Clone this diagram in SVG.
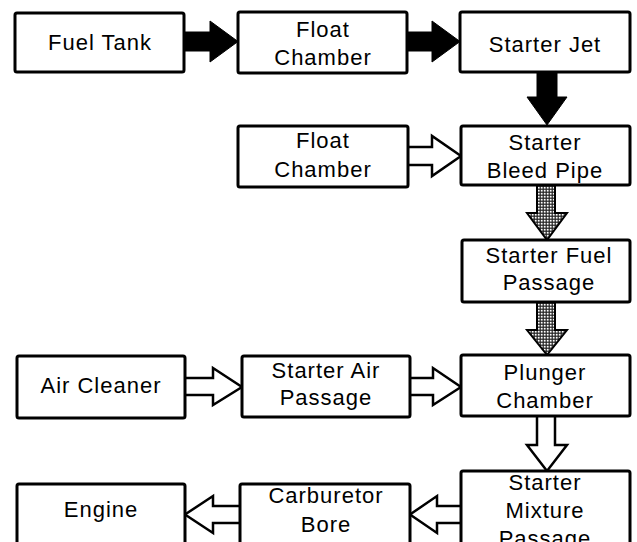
<svg xmlns="http://www.w3.org/2000/svg" width="637" height="542" viewBox="0 0 637 542">
<style>
.box{fill:#fff;stroke:#000;stroke-width:3;}
.t{font-family:"Liberation Sans",Arial,sans-serif;font-size:22px;letter-spacing:1px;text-anchor:middle;fill:#000;}
.solid{fill:#000;stroke:#000;stroke-width:1;stroke-linejoin:miter;}
.hollow{fill:#fff;stroke:#000;stroke-width:2.5;stroke-linejoin:miter;}
.dot{fill:url(#mesh);stroke:#000;stroke-width:2;stroke-linejoin:miter;}
</style>
<defs>
<pattern id="mesh" width="3" height="3" patternUnits="userSpaceOnUse">
<rect width="3" height="3" fill="#222"/>
<rect x="0.8" y="0.8" width="1.8" height="1.8" fill="#fff"/>
</pattern>
</defs>
<rect width="637" height="542" fill="#fff"/>
<g id="connectors">
<path class="solid" d="M184,32 H210 V21 L238,41.5 L210,62 V51 H184 Z"/>
<path class="solid" d="M407,32 H432 V21 L460,41.5 L432,62 V51 H407 Z"/>
<path class="solid" d="M537,72 V97 H527 L547,125 L567,97 H557 V72 Z"/>
<path class="hollow" d="M408,147 H432 V136 L461,156 L432,176 V165 H408"/>
<path class="dot" d="M537,185 V213 H527 L547,240 L567,213 H555 V185"/>
<path class="dot" d="M537,302 V330 H527 L547,355 L567,330 H555 V302"/>
<path class="hollow" d="M185,378 H213 V368 L242,387 L213,405 V395 H185"/>
<path class="hollow" d="M410,378 H433 V368 L461,387 L433,405 V395 H410"/>
<path class="hollow" d="M537,416 V445 H527 L547,471 L567,445 H555 V416"/>
<path class="hollow" d="M461,506 H437 V496 L410,514.5 L437,533 V523 H461"/>
<path class="hollow" d="M240,506 H213 V496 L185,514.5 L213,533 V523 H240"/>
</g>
<g id="fuel-tank"><rect class="box" x="15" y="13" width="169" height="59" rx="2"/><text class="t" x="100" y="50">Fuel Tank</text></g>
<g id="float-chamber-1"><rect class="box" x="238" y="12" width="169" height="61" rx="2"/><text class="t" x="323" y="37">Float</text><text class="t" x="323" y="65">Chamber</text></g>
<g id="starter-jet"><rect class="box" x="460" y="12" width="170" height="60" rx="2"/><text class="t" x="545" y="52">Starter Jet</text></g>
<g id="float-chamber-2"><rect class="box" x="238" y="126" width="170" height="61" rx="2"/><text class="t" x="323" y="148">Float</text><text class="t" x="323" y="177">Chamber</text></g>
<g id="starter-bleed-pipe"><rect class="box" x="461" y="126" width="169" height="59" rx="2"/><text class="t" x="545" y="150">Starter</text><text class="t" x="545" y="178">Bleed Pipe</text></g>
<g id="starter-fuel-passage"><rect class="box" x="462" y="240" width="168" height="62" rx="2"/><text class="t" x="549" y="263">Starter Fuel</text><text class="t" x="549" y="290">Passage</text></g>
<g id="air-cleaner"><rect class="box" x="17" y="356" width="168" height="62" rx="2"/><text class="t" x="101" y="393">Air Cleaner</text></g>
<g id="starter-air-passage"><rect class="box" x="242" y="356" width="168" height="61" rx="2"/><text class="t" x="326" y="378">Starter Air</text><text class="t" x="326" y="405">Passage</text></g>
<g id="plunger-chamber"><rect class="box" x="461" y="355" width="169" height="61" rx="2"/><text class="t" x="545" y="380">Plunger</text><text class="t" x="545" y="408">Chamber</text></g>
<g id="starter-mixture-passage"><rect class="box" x="461" y="471" width="169" height="90" rx="2"/><text class="t" x="545" y="490">Starter</text><text class="t" x="545" y="518">Mixture</text><text class="t" x="545" y="546">Passage</text></g>
<g id="carburetor-bore"><rect class="box" x="240" y="484" width="170" height="62" rx="2"/><text class="t" x="326" y="503">Carburetor</text><text class="t" x="326" y="532">Bore</text></g>
<g id="engine"><rect class="box" x="17" y="484" width="168" height="62" rx="2"/><text class="t" x="101" y="517">Engine</text></g>
</svg>
